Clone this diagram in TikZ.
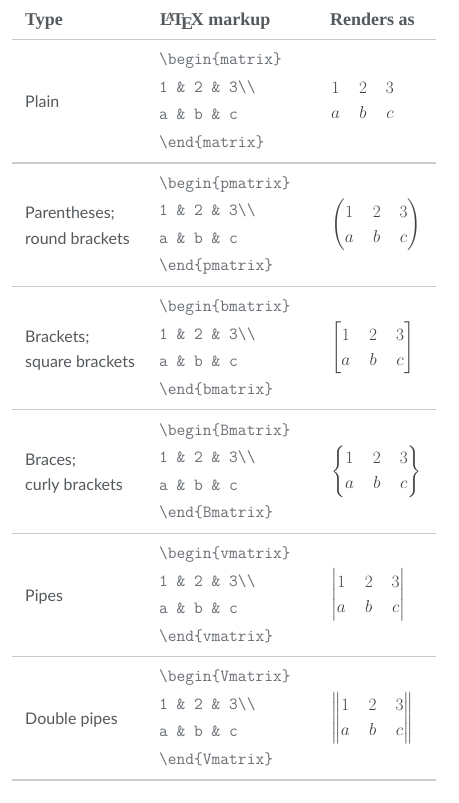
\documentclass[tikz,border=0pt]{standalone}
\usepackage[no-math]{fontspec}
\usepackage{amsmath}
\newfontfamily\hdfont{Liberation Serif}
\newfontfamily\lbfont{Lato}
\definecolor{textgray}{HTML}{54595D}
\definecolor{mathgray}{HTML}{3C4045}
\definecolor{codegray}{HTML}{6A6F75}
\definecolor{rulegray}{HTML}{C8CCD1}
\setlength\arraycolsep{9.5pt}
\tikzset{
  hd/.style={anchor=base west, inner sep=0pt, text=textgray, font=\hdfont\bfseries\fontsize{18}{20}\selectfont},
  lbl/.style={anchor=base west, inner sep=0pt, text=textgray, font=\lbfont\fontsize{16}{20}\selectfont},
  code/.style={anchor=base west, inner sep=0pt, text=codegray, font=\ttfamily\fontsize{17}{20}\selectfont},
  mat/.style={anchor=west, inner sep=0pt, text=mathgray}
}
\tikzset{rule/.style={draw=rulegray, line width=1.2pt}}
\newcommand\trow[3]{%
  \node[code] (b#1) at (159,#2-36.25) {\textbackslash begin\{#3\}};
  \node[code] (r#1) at (159,#2-8.75) {1 \& 2 \& 3\textbackslash\textbackslash};
  \node[code] (s#1) at (159,#2+18.75) {a \& b \& c};
  \node[code] (e#1) at (159,#2+46.25) {\textbackslash end\{#3\}};
  \node[mat] (m#1) at (331,#2) {\fontsize{16}{25}\selectfont$\begin{#3}1&2&3\\a&b&c\end{#3}$};
  \draw[rule] (12,#2+61.7) -- (436,#2+61.7);
}
\begin{document}
\begin{tikzpicture}[x=1pt,y=-1pt]
\fill[white] (0,0) rectangle (458,803);
\useasboundingbox (0,0) rectangle (458,803);
\node[hd] (h1) at (25,25) {Type};
\node[hd] (h2) at (160,25) {\LaTeX{} markup};
\node[hd] (h3) at (330,25) {Renders as};
\draw[rule] (12,39.5) -- (436,39.5);
\trow{1}{101.2}{matrix}
\trow{2}{224.6}{pmatrix}
\trow{3}{348.0}{bmatrix}
\trow{4}{471.4}{Bmatrix}
\trow{5}{594.8}{vmatrix}
\trow{6}{718.2}{Vmatrix}
\node[lbl] (l1) at (25,107.7) {Plain};
\node[lbl] (l2a) at (25,218.6) {Parentheses;};
\node[lbl] (l2b) at (25,244.1) {round brackets};
\node[lbl] (l3a) at (25,342.0) {Brackets;};
\node[lbl] (l3b) at (25,367.5) {square brackets};
\node[lbl] (l4a) at (25,465.4) {Braces;};
\node[lbl] (l4b) at (25,490.9) {curly brackets};
\node[lbl] (l5) at (25,601.3) {Pipes};
\node[lbl] (l6) at (25,724.7) {Double pipes};
\end{tikzpicture}
\end{document}
